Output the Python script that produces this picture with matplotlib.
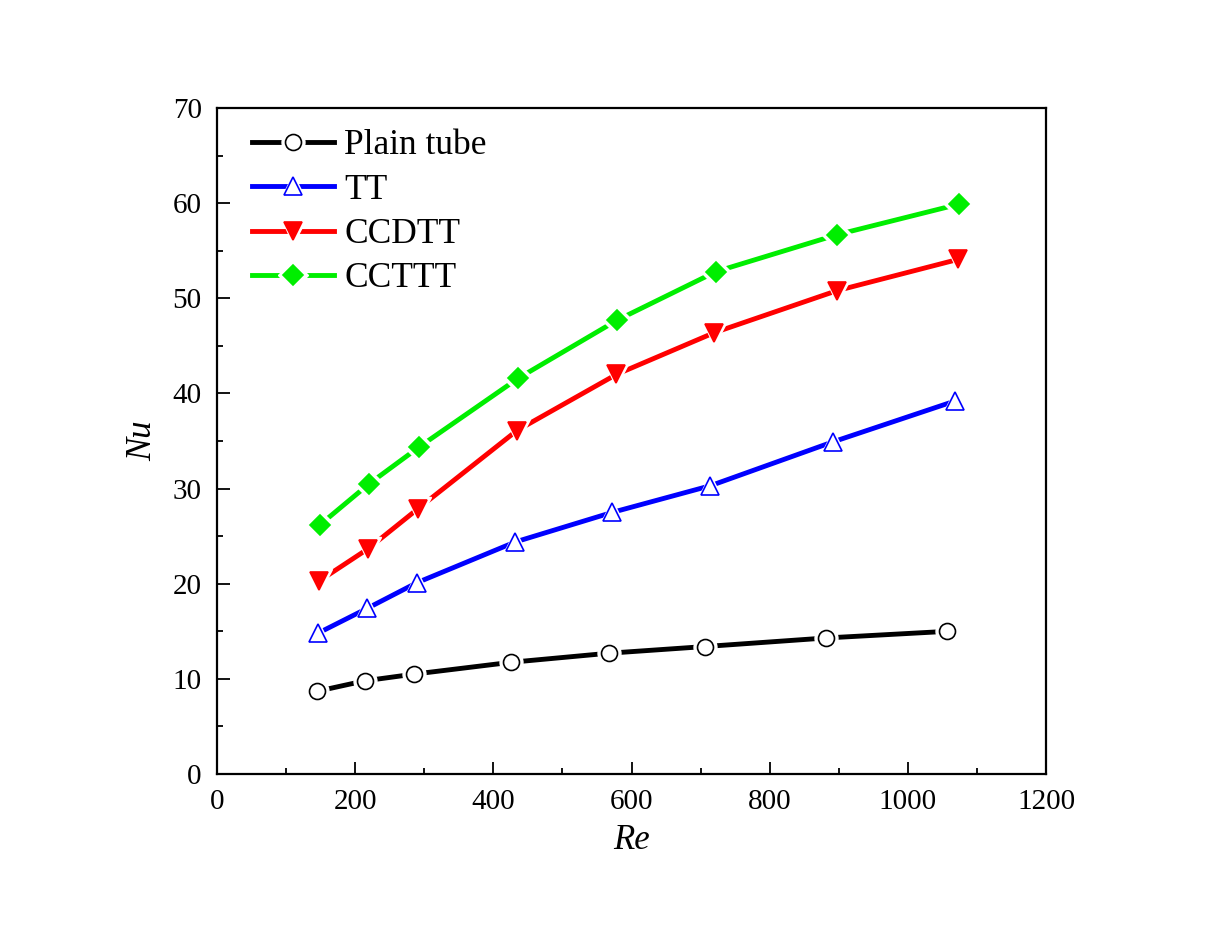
import matplotlib
matplotlib.use('Agg')
import matplotlib.pyplot as plt
from matplotlib.ticker import MultipleLocator

plt.rcParams['font.family'] = ['Liberation Serif', 'DejaVu Serif']

# data
re_plain = [145, 214, 285, 426, 567, 706, 881, 1057]
nu_plain = [8.7, 9.8, 10.5, 11.75, 12.7, 13.4, 14.3, 15.0]

re_tt = [146, 217, 289, 432, 572, 714, 891, 1068]
nu_tt = [14.8, 17.4, 20.1, 24.4, 27.5, 30.3, 34.9, 39.2]

re_ccdtt = [148, 219, 291, 434, 578, 720, 897, 1073]
nu_ccdtt = [20.3, 23.7, 27.9, 36.1, 42.0, 46.4, 50.8, 54.1]

re_cctt = [149, 220, 293, 436, 579, 722, 898, 1074]
nu_cctt = [26.2, 30.5, 34.4, 41.6, 47.7, 52.8, 56.7, 59.9]

labels = ['Plain tube', 'TT', 'CCDTT', 'CCTTT']

fig = plt.figure(figsize=(12.16, 9.3), dpi=100)
ax = fig.add_axes([0.1785, 0.1677, 0.6817, 0.7161])

series = [
    (re_plain, nu_plain, 'black', 'o', 'white', 11.5),
    (re_tt, nu_tt, '#0000ff', '^', 'white', 12.5),
    (re_ccdtt, nu_ccdtt, '#ff0000', 'v', '#ff0000', 13),
    (re_cctt, nu_cctt, '#00ee00', 'D', '#00ee00', 10.5),
]

handles = []
for (x, y, c, m, fc, ms) in series:
    ln, = ax.plot(x, y, color=c, linewidth=3.5, zorder=2)
    # white halo so the line stops short of each marker
    halo, = ax.plot(x, y, linestyle='none', marker=m, markersize=ms + 5,
                    markerfacecolor='white', markeredgecolor='white', zorder=3)
    mk, = ax.plot(x, y, linestyle='none', marker=m, markersize=ms,
                  markerfacecolor=fc, markeredgecolor=c, markeredgewidth=1.2, zorder=4)
    handles.append((ln, halo, mk))

ax.set_xlim(0, 1200)
ax.set_ylim(0, 70)
ax.xaxis.set_major_locator(MultipleLocator(200))
ax.xaxis.set_minor_locator(MultipleLocator(100))
ax.yaxis.set_major_locator(MultipleLocator(10))
ax.yaxis.set_minor_locator(MultipleLocator(5))

ax.tick_params(which='both', direction='in', top=False, right=False, width=1.3)
ax.tick_params(which='major', length=9, labelsize=21, pad=11)
ax.tick_params(which='minor', length=4.5)
for sp in ax.spines.values():
    sp.set_linewidth(1.6)

ax.set_xlabel('Re', fontsize=25, style='italic', labelpad=6)
ax.set_ylabel('Nu', fontsize=25, style='italic', labelpad=10)

ax.legend(handles, labels, loc='upper left', frameon=False, fontsize=25.5,
          handlelength=2.3, handletextpad=0.3, labelspacing=0.32,
          borderaxespad=0.2, bbox_to_anchor=(0.017, 1.0))

fig.savefig('out.png', dpi=100)
